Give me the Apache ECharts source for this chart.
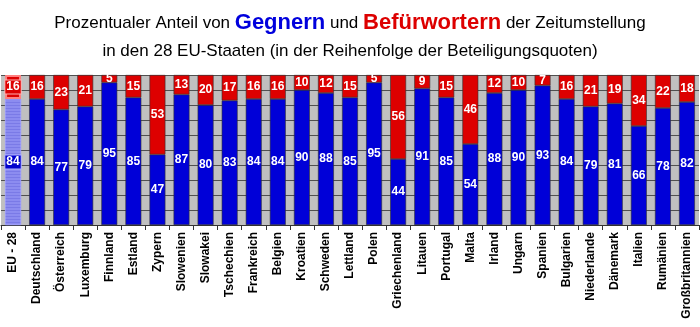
<!DOCTYPE html>
<html>
<head>
<meta charset="utf-8">
<script src="https://cdn.jsdelivr.net/npm/echarts@6/dist/echarts.min.js"></script>
<style>html,body{margin:0;padding:0;background:#fff}#c{width:700px;height:327px}</style>
</head>
<body>
<div id="c"></div>
<script>
const categories = ["EU - 28","Deutschland","Österreich","Luxemburg","Finnland","Estland","Zypern","Slowenien","Slowakei","Tschechien","Frankreich","Belgien","Kroatien","Schweden","Lettland","Polen","Griechenland","Litauen","Portugal","Malta","Irland","Ungarn","Spanien","Bulgarien","Niederlande","Dänemark","Italien","Rumänien","Großbritannien"];
const gegner = [84,84,77,79,95,85,47,87,80,83,84,84,90,88,85,95,44,91,85,54,88,90,93,84,79,81,66,78,82];
const befuerworter = [16,16,23,21,5,15,53,13,20,17,16,16,10,12,15,5,56,9,15,46,12,10,7,16,21,19,34,22,18];

const BLUE = '#0000d8', RED = '#dd0000';
const font = '"Liberation Sans", Arial, sans-serif';

const blueData = gegner.map((v, i) => i === 0 ? {
  value: v,
  itemStyle: { color: '#8c8cf0', borderColor: '#a0a0ff', decal: { symbol: 'rect', symbolSize: 1, dashArrayX: [[1, 0]], dashArrayY: [1, 2], color: 'rgba(120,120,230,0.9)' } },
  label: { backgroundColor: '#0000cc', borderColor: '#b0b0ff', borderWidth: 1, padding: [1, 1, 0, 1] }
} : v);
const redData = befuerworter.map((v, i) => i === 0 ? {
  value: v,
  itemStyle: { color: RED, borderColor: '#ff8080', borderWidth: 2 },
  label: { backgroundColor: RED, borderColor: '#ffb0b0', borderWidth: 1, padding: [1, 1, 0, 1] }
} : v);

const chart = echarts.init(document.getElementById('c'), null, { renderer: 'canvas' });
chart.setOption({
  animation: false,
  title: {
    left: 'center', top: 4,
    text: '{n|Prozentualer Anteil von }{b|Gegnern}{n| und }{r|Befürwortern}{n| der Zeitumstellung}\n{n|in den 28 EU-Staaten (in der Reihenfolge der Beteiligungsquoten)}',
    textStyle: {
      fontWeight: 'normal',
      lineHeight: 28,
      rich: {
        n: { fontFamily: font, fontSize: 17, fontWeight: 'normal', color: '#000', lineHeight: 28 },
        b: { fontFamily: font, fontSize: 22, fontWeight: 'bold', color: '#0000dd', lineHeight: 28 },
        r: { fontFamily: font, fontSize: 22, fontWeight: 'bold', color: '#dd0000', lineHeight: 28 }
      }
    }
  },
  grid: { left: 1, right: 1, top: 75, bottom: 102, show: true, backgroundColor: '#c0c0c0', borderWidth: 0 },
  xAxis: {
    type: 'category', data: categories,
    axisLine: { lineStyle: { color: '#333' } },
    axisTick: { show: true, length: 5, lineStyle: { color: '#333' } },
    axisLabel: { rotate: 90, interval: 0, fontFamily: font, fontSize: 12, fontWeight: 'bold', color: '#000', margin: 7 }
  },
  yAxis: {
    type: 'value', min: 0, max: 100, interval: 10, show: true,
    axisLine: { show: false }, axisTick: { show: false }, axisLabel: { show: false },
    splitLine: { lineStyle: { color: '#505050', width: 1 } }
  },
  series: [
    { name: 'Gegner', type: 'bar', stack: 's', data: blueData, barWidth: '66%',
      itemStyle: { color: BLUE, borderColor: '#303030', borderWidth: 0.6 },
      label: { show: true, position: 'inside', color: '#fff', fontFamily: font, fontWeight: 'bold', fontSize: 12 } },
    { name: 'Befürworter', type: 'bar', stack: 's', data: redData, barWidth: '66%',
      itemStyle: { color: RED, borderColor: '#303030', borderWidth: 0.6 },
      label: { show: true, position: 'inside', color: '#fff', fontFamily: font, fontWeight: 'bold', fontSize: 12 } }
  ]
});
</script>
</body>
</html>
